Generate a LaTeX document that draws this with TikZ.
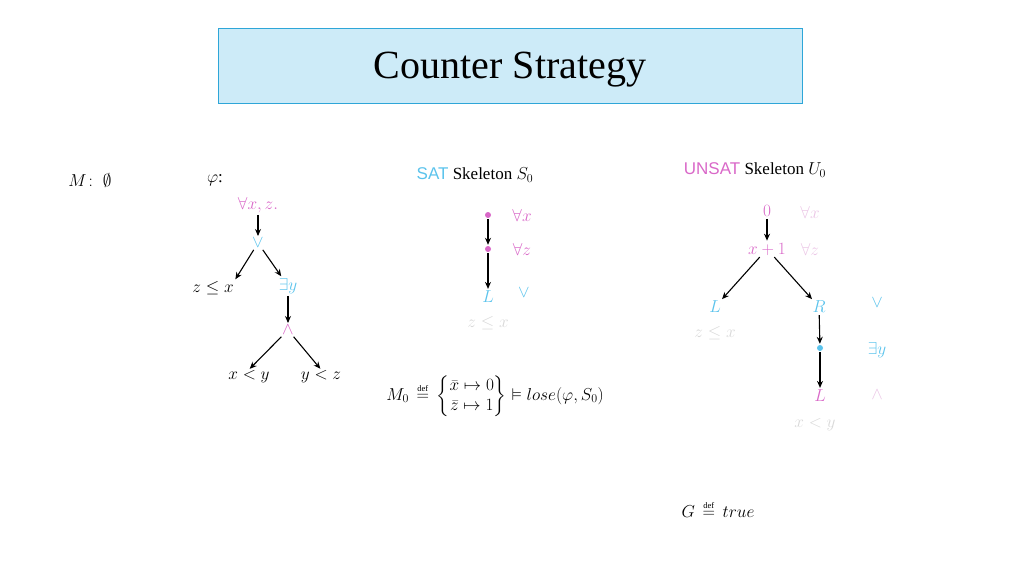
\documentclass[tikz,border=0pt]{standalone}
\usepackage{amsmath,amssymb}
\usepackage{fontspec}
\setmainfont{Liberation Serif}
\setsansfont{Liberation Sans}
\usetikzlibrary{arrows.meta}
\definecolor{pk}{HTML}{D968C8}
\definecolor{bl}{HTML}{5BC3EC}
\definecolor{lpk}{HTML}{EBC6E6}
\definecolor{lgr}{HTML}{D8D8D8}
\definecolor{tfill}{HTML}{CDEBF8}
\definecolor{tdraw}{HTML}{2EA6D8}
\newcommand{\defeq}{\mathrel{\overset{\raisebox{-1pt}{$\scriptscriptstyle\mathrm{def}$}}{=}}}
\begin{document}
\begin{tikzpicture}[x=1pt,y=-1pt,font=\fontsize{17}{20}\selectfont,
  every node/.style={inner sep=1pt},
  arr/.style={-{Stealth[length=7pt,width=6pt]},line width=1.1pt,shorten >=1pt,shorten <=1pt},
  dotn/.style={circle,inner sep=0pt,minimum size=6pt}]
\useasboundingbox (0,0) rectangle (1024,576);
\node[draw=tdraw,fill=tfill,line width=1pt,minimum width=584pt,minimum height=75pt] (title) at (510,66) {};
\node[font=\fontsize{40}{44}\selectfont] (tt) at (510,70) {Counter Strategy};
\node (M) at (90,180) {$M\colon\ \emptyset$};
\node (phi) at (215,180) {$\varphi$:};
\node[text=pk] (a1) at (258,205) {$\forall x,z.$};
\node[text=bl] (a2) at (258,243) {$\vee$};
\node (a3) at (213,288) {$z\le x$};
\node[text=bl] (a4) at (288,286) {$\exists y$};
\node[text=pk] (a5) at (288,330) {$\wedge$};
\node (a6) at (249,377) {$x<y$};
\node (a7) at (321,377) {$y<z$};
\draw[arr] (a1) -- (a2);
\draw[arr] (a2) -- (a3.north east);
\draw[arr] (a2) -- (a4);
\draw[arr] (a4) -- (a5);
\draw[arr] (a5) -- (a6.north);
\draw[arr] (a5) -- (a7.north);
% SAT
\node (sat) at (475,175) {\textsf{\color{bl}SAT}\ \textrm{Skeleton} $S_0$};
\node[dotn,fill=pk] (s1) at (488,215) {};
\node[dotn,fill=pk] (s2) at (488,249) {};
\node[text=pk] at (522,215) {$\forall x$};
\node[text=pk] at (522,249) {$\forall z$};
\node[text=bl] (s3) at (488,297) {$L$};
\node[text=bl] at (524,293) {$\vee$};
\node[text=lgr] at (488,323) {$z\le x$};
\draw[arr] (s1) -- (s2);
\draw[arr] (s2) -- (s3);
\node (m0) at (495,396) {$M_0\,\defeq\,\left\{\begin{matrix}\bar x\mapsto 0\\ \bar z\mapsto 1\end{matrix}\right\}\vDash lose(\varphi,S_0)$};
% UNSAT
\node (unsat) at (755,170) {\textsf{\color{pk}UNSAT}\ \textrm{Skeleton} $U_0$};
\node[text=pk] (u1) at (767,211) {$0$};
\node[text=lpk] at (810,212) {$\forall x$};
\node[text=pk] (u2) at (767,249) {$x+1$};
\node[text=lpk] at (810,249) {$\forall z$};
\node[text=bl] (u3) at (715,307) {$L$};
\node[text=bl] (u4) at (819,307) {$R$};
\node[text=bl] at (877,303) {$\vee$};
\node[text=lgr] at (715,333) {$z\le x$};
\node[dotn,fill=bl] (u5) at (820,348) {};
\node[text=bl] at (877,350) {$\exists y$};
\node[text=pk] (u6) at (820,396) {$L$};
\node[text=lpk] at (877,395) {$\wedge$};
\node[text=lgr] at (815,425) {$x<y$};
\draw[arr] (u1) -- (u2);
\draw[arr] (u2) -- (u3);
\draw[arr] (u2) -- (u4);
\draw[arr] (u4) -- (u5);
\draw[arr] (u5) -- (u6);
\node (g) at (718,509) {$G\,\defeq\, true$};
\end{tikzpicture}
\end{document}
